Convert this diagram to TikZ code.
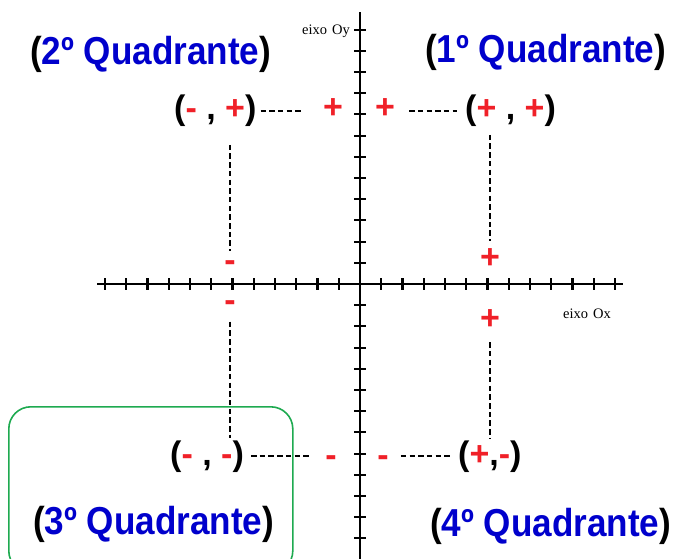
\documentclass[tikz,border=0pt]{standalone}
\usepackage{fontspec}
\usetikzlibrary{calc}
\setmainfont{Liberation Sans}
\newfontfamily\axisfont{Liberation Serif}
\definecolor{qblue}{RGB}{0,0,204}
\definecolor{sred}{RGB}{240,32,40}
\definecolor{boxgreen}{RGB}{30,170,80}
\newcommand{\qlab}[1]{\scalebox{0.9}[1]{(\textcolor{qblue}{#1})}}
\newcommand{\rs}[1]{\textcolor{sred}{#1}}
\begin{document}
\begin{tikzpicture}[x=1pt,y=-1pt,
  quad/.style={font=\fontsize{39}{39}\selectfont\bfseries, inner sep=0pt, anchor=base west},
  pair/.style={font=\fontsize{34}{34}\selectfont\bfseries, inner sep=0pt, anchor=base west},
  sign/.style={font=\fontsize{34}{34}\selectfont\bfseries, text=sred, inner sep=0pt},
  axislab/.style={font=\axisfont\fontsize{14.5}{14.5}\selectfont, inner sep=0pt},
  axisline/.style={line width=2.3pt, black},
  tick/.style={line width=2.1pt, black},
  guide/.style={line width=2.4pt, black, dash pattern=on 5.5pt off 3.2pt},
  selbox/.style={draw=boxgreen, line width=1.6pt, rounded corners=22pt}]
\useasboundingbox (0,0) rectangle (674,558);
\fill[white] (0,0) rectangle (674,558);
\begin{scope}
\clip (0,0) rectangle (674,558);
\node[selbox, minimum width=284pt, minimum height=166pt, anchor=north west] (box3) at (8,406) {};
\end{scope}
% axes
\coordinate (xl) at (97,284);
\coordinate (xr) at (623,284);
\coordinate (yt) at (360,12);
\coordinate (yb) at (360,560);
\draw[axisline] (xl) -- (xr);
\draw[axisline] (yt) -- (yb);
\foreach \k in {-12,...,-1,1,2,...,12} {
  \draw[tick] ($(360,284)+(\k*21.25,-5.8)$) -- ($(360,284)+(\k*21.25,5.8)$);
  \draw[tick] ($(360,284)+(-5.8,\k*21.2)$) -- ($(360,284)+(5.8,\k*21.2)$);
}
\node[axislab, anchor=base east] (oy) at (350,34) {eixo\hspace{5pt}Oy};
\node[axislab, anchor=base west] (ox) at (563,318) {eixo\hspace{5pt}Ox};
% quadrant labels
\node[quad] (q2) at (30,64) {\qlab{2º Quadrante}};
\node[quad] (q1) at (425,62) {\qlab{1º Quadrante}};
\node[quad] (q3) at (33,534) {\qlab{3º Quadrante}};
\node[quad] (q4) at (430,536) {\qlab{4º Quadrante}};
% ordered pairs
\node[pair] (p2) at (174,119.5) {(\rs{-} , \rs{+})};
\node[pair] (p1) at (465,119.5) {(\rs{+} , \rs{+})};
\node[pair] (p3) at (170,465) {(\rs{-} , \rs{-})};
\node[pair] (p4) at (458,465) {(\rs{+},\rs{-})};
% signs on the axes
\node[sign] (yp2) at (333,109) {+};
\node[sign] (yp1) at (385,109) {+};
\node[sign] (xm2) at (230,266) {-};
\node[sign] (xm3) at (230,306) {-};
\node[sign] (xp1) at (490,259) {+};
\node[sign] (xp4) at (490,320) {+};
\node[sign] (ym3) at (331,461) {-};
\node[sign] (ym4) at (383,461) {-};
% guides
\draw[guide, shorten <=4pt, shorten >=22pt] (p2.east) -- (p2.east -| yp2.west);
\draw[guide, shorten <=14pt, shorten >=8pt] (p1.west -| yp1.east) -- (p1.west);
\draw[guide, shorten <=18pt, shorten >=9pt] (xm2 |- p2.south) -- (xm2.north);
\draw[guide, shorten <=8pt, shorten >=8pt] (xp1 |- p1.south) -- (xp1.north);
\draw[guide, shorten <=10pt, shorten >=2pt] (xm3.south) -- (xm3 |- p3.north);
\draw[guide, shorten <=12pt, shorten >=1pt] (xp4.south) -- (xp4 |- p4.north);
\draw[guide, shorten <=7pt, shorten >=14pt] (p3.east) -- (p3.east -| ym3.west);
\draw[guide, shorten <=12pt, shorten >=8pt] (p4.west -| ym4.east) -- (p4.west);
\end{tikzpicture}
\end{document}
